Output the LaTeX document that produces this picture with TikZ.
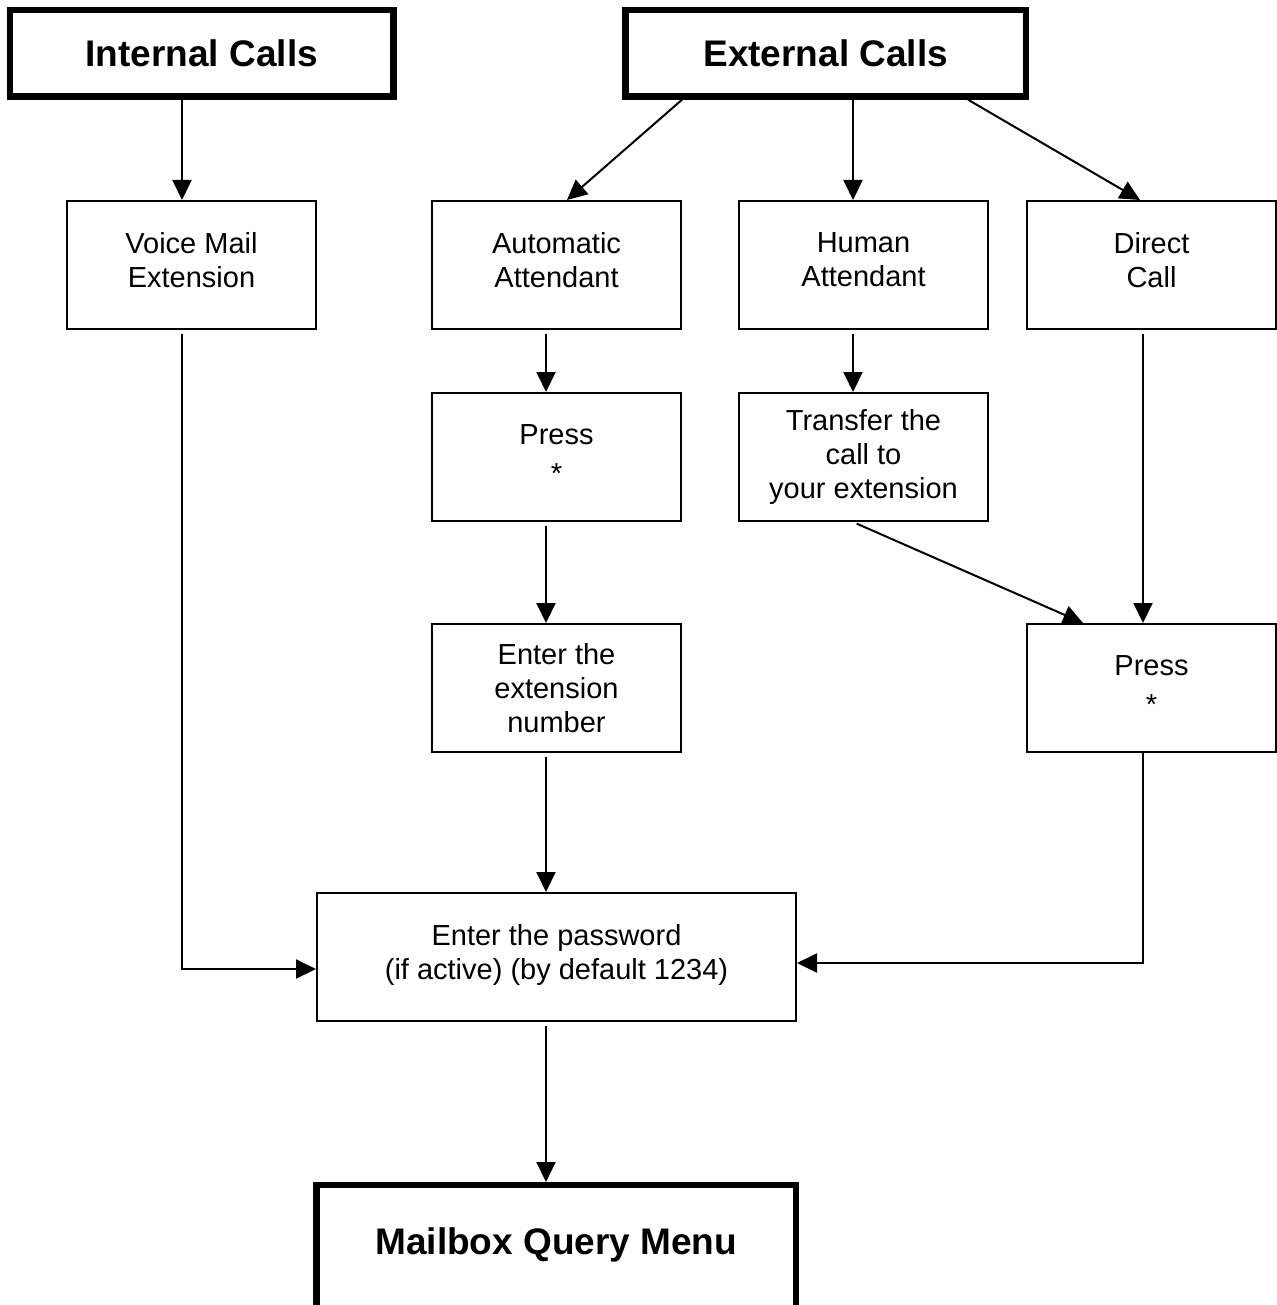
\documentclass[tikz,border=0pt]{standalone}
\usepackage{fontspec}
\setmainfont{Liberation Sans}
\usetikzlibrary{arrows.meta,calc}
\begin{document}
\begin{tikzpicture}[x=0.5pt,y=-0.5pt,
  box/.style={draw,line width=1pt,rectangle,minimum width=124.5pt,minimum height=64pt,inner sep=0pt,align=center,font=\fontsize{14.5}{17}\selectfont},
  twoline/.style={text depth=5pt},
  title/.style={draw,line width=3.2pt,rectangle,inner sep=0pt,font=\fontsize{18.5}{22}\bfseries\selectfont},
  arr/.style={line width=1pt,-{Triangle[length=10pt,width=9.5pt]}},
  gap/.style={shorten <=2pt}]
\useasboundingbox (0,0) rectangle (1276,1305);

\node[title,minimum width=191.75pt,minimum height=43.25pt] (int) at (201.75,53.25) {Internal Calls};
\node[title,minimum width=200.25pt,minimum height=43.25pt] (ext) at (825.75,53.25) {External Calls};

\node[box,twoline] (vm) at (191.5,265) {Voice Mail\\Extension};
\node[box,twoline] (aa) at (556.5,265) {Automatic\\Attendant};
\node[box,twoline] (ha) at (863.5,265) {Human\\Attendant};
\node[box,twoline] (dc) at (1151.5,265) {Direct\\Call};

\node[box,twoline] (p1) at (556.5,457) {Press\\\raisebox{-2.5pt}{*}};
\node[box] (tr) at (863.5,457) {Transfer the\\call to\\your extension};
\node[box] (en) at (556.5,688) {Enter the\\extension\\number};
\node[box,twoline] (p2) at (1151.5,688) {Press\\\raisebox{-2.5pt}{*}};

\node[box,minimum width=239.5pt,text depth=5pt] (pw) at (556.5,957) {Enter the password\\(if active) (by default 1234)};

\node[title,anchor=north,minimum width=239.75pt,text height=34.75pt,text depth=60pt] (mb) at (556.25,1182) {Mailbox Query Menu};

\coordinate (c1) at (182,0);
\coordinate (c2) at (546,0);
\coordinate (c3) at (853,0);
\coordinate (c4) at (1143,0);
\coordinate (d1) at (682,0);
\coordinate (d2) at (567,0);
\coordinate (d3) at (968,0);
\coordinate (d4) at (1140,0);
\coordinate (d5) at (1083,0);
\coordinate (r1) at (0,969);
\coordinate (r2) at (0,963);

\draw[arr] (int.south -| c1) -- (vm.north -| c1);
\draw[arr] (ext.south -| d1) -- (aa.north -| d2);
\draw[arr] (ext.south -| c3) -- (ha.north -| c3);
\draw[arr] (ext.south -| d3) -- (dc.north -| d4);
\draw[arr,gap] (aa.south -| c2) -- (p1.north -| c2);
\draw[arr,gap] (ha.south -| c3) -- (tr.north -| c3);
\draw[arr,gap] (p1.south -| c2) -- (en.north -| c2);
\draw[arr,gap] (tr.south -| c3) -- (p2.north -| d5);
\draw[arr,gap] (dc.south -| c4) -- (p2.north -| c4);
\draw[arr,gap] (vm.south -| c1) |- (r1 -| pw.west);
\draw[arr,gap] (en.south -| c2) -- (pw.north -| c2);
\draw[arr] (p2.south -| c4) |- (r2 -| pw.east);
\draw[arr,gap] (pw.south -| c2) -- (mb.north -| c2);
\end{tikzpicture}
\end{document}
